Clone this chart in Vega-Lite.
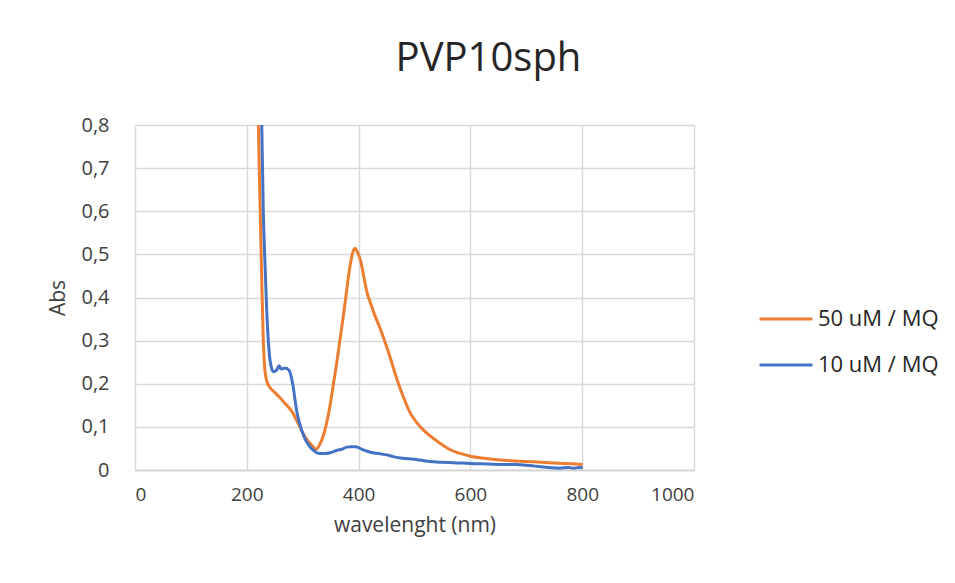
{
  "$schema": "https://vega.github.io/schema/vega-lite/v6.json",
  "autosize": "none",
  "width": 559,
  "height": 345,
  "padding": {"left": 135, "top": 125, "right": 261, "bottom": 113},
  "background": "white",
  "title": {
    "text": "PVP10sph",
    "anchor": "middle",
    "frame": "group",
    "dx": 74,
    "font": "Open Sans",
    "fontSize": 40,
    "fontWeight": "normal",
    "color": "#262626",
    "baseline": "alphabetic",
    "offset": 4
  },
  "config": {
    "view": {"stroke": null},
    "font": "Open Sans"
  },
  "datasets": {
    "spectra": [
      {"nm": 219, "abs": 0.95, "series": "50 uM / MQ"},
      {"nm": 221, "abs": 0.78, "series": "50 uM / MQ"},
      {"nm": 224, "abs": 0.6, "series": "50 uM / MQ"},
      {"nm": 226.6, "abs": 0.45, "series": "50 uM / MQ"},
      {"nm": 229.5, "abs": 0.3, "series": "50 uM / MQ"},
      {"nm": 232.5, "abs": 0.23, "series": "50 uM / MQ"},
      {"nm": 236, "abs": 0.205, "series": "50 uM / MQ"},
      {"nm": 241, "abs": 0.192, "series": "50 uM / MQ"},
      {"nm": 250, "abs": 0.18, "series": "50 uM / MQ"},
      {"nm": 259, "abs": 0.168, "series": "50 uM / MQ"},
      {"nm": 268, "abs": 0.155, "series": "50 uM / MQ"},
      {"nm": 280, "abs": 0.137, "series": "50 uM / MQ"},
      {"nm": 290, "abs": 0.113, "series": "50 uM / MQ"},
      {"nm": 295, "abs": 0.1, "series": "50 uM / MQ"},
      {"nm": 305, "abs": 0.075, "series": "50 uM / MQ"},
      {"nm": 313, "abs": 0.062, "series": "50 uM / MQ"},
      {"nm": 320, "abs": 0.052, "series": "50 uM / MQ"},
      {"nm": 324, "abs": 0.048, "series": "50 uM / MQ"},
      {"nm": 330, "abs": 0.058, "series": "50 uM / MQ"},
      {"nm": 337, "abs": 0.08, "series": "50 uM / MQ"},
      {"nm": 343, "abs": 0.11, "series": "50 uM / MQ"},
      {"nm": 349, "abs": 0.15, "series": "50 uM / MQ"},
      {"nm": 355, "abs": 0.2, "series": "50 uM / MQ"},
      {"nm": 361, "abs": 0.25, "series": "50 uM / MQ"},
      {"nm": 367, "abs": 0.305, "series": "50 uM / MQ"},
      {"nm": 373, "abs": 0.36, "series": "50 uM / MQ"},
      {"nm": 378, "abs": 0.41, "series": "50 uM / MQ"},
      {"nm": 382, "abs": 0.45, "series": "50 uM / MQ"},
      {"nm": 387, "abs": 0.49, "series": "50 uM / MQ"},
      {"nm": 391, "abs": 0.51, "series": "50 uM / MQ"},
      {"nm": 394, "abs": 0.514, "series": "50 uM / MQ"},
      {"nm": 398, "abs": 0.505, "series": "50 uM / MQ"},
      {"nm": 403, "abs": 0.488, "series": "50 uM / MQ"},
      {"nm": 408, "abs": 0.458, "series": "50 uM / MQ"},
      {"nm": 412, "abs": 0.43, "series": "50 uM / MQ"},
      {"nm": 416, "abs": 0.407, "series": "50 uM / MQ"},
      {"nm": 420, "abs": 0.392, "series": "50 uM / MQ"},
      {"nm": 428, "abs": 0.362, "series": "50 uM / MQ"},
      {"nm": 438, "abs": 0.33, "series": "50 uM / MQ"},
      {"nm": 447, "abs": 0.298, "series": "50 uM / MQ"},
      {"nm": 456, "abs": 0.263, "series": "50 uM / MQ"},
      {"nm": 465, "abs": 0.225, "series": "50 uM / MQ"},
      {"nm": 474, "abs": 0.19, "series": "50 uM / MQ"},
      {"nm": 483, "abs": 0.16, "series": "50 uM / MQ"},
      {"nm": 492, "abs": 0.133, "series": "50 uM / MQ"},
      {"nm": 504, "abs": 0.11, "series": "50 uM / MQ"},
      {"nm": 518, "abs": 0.09, "series": "50 uM / MQ"},
      {"nm": 534, "abs": 0.073, "series": "50 uM / MQ"},
      {"nm": 550, "abs": 0.058, "series": "50 uM / MQ"},
      {"nm": 564, "abs": 0.047, "series": "50 uM / MQ"},
      {"nm": 580, "abs": 0.039, "series": "50 uM / MQ"},
      {"nm": 600, "abs": 0.032, "series": "50 uM / MQ"},
      {"nm": 625, "abs": 0.027, "series": "50 uM / MQ"},
      {"nm": 653, "abs": 0.023, "series": "50 uM / MQ"},
      {"nm": 680, "abs": 0.021, "series": "50 uM / MQ"},
      {"nm": 712, "abs": 0.019, "series": "50 uM / MQ"},
      {"nm": 740, "abs": 0.017, "series": "50 uM / MQ"},
      {"nm": 770, "abs": 0.015, "series": "50 uM / MQ"},
      {"nm": 801, "abs": 0.013, "series": "50 uM / MQ"},
      {"nm": 225, "abs": 0.95, "series": "10 uM / MQ"},
      {"nm": 227, "abs": 0.78, "series": "10 uM / MQ"},
      {"nm": 229.5, "abs": 0.6, "series": "10 uM / MQ"},
      {"nm": 232.5, "abs": 0.48, "series": "10 uM / MQ"},
      {"nm": 235.6, "abs": 0.371, "series": "10 uM / MQ"},
      {"nm": 238.5, "abs": 0.3, "series": "10 uM / MQ"},
      {"nm": 241.5, "abs": 0.255, "series": "10 uM / MQ"},
      {"nm": 244.5, "abs": 0.235, "series": "10 uM / MQ"},
      {"nm": 247.5, "abs": 0.228, "series": "10 uM / MQ"},
      {"nm": 250.5, "abs": 0.229, "series": "10 uM / MQ"},
      {"nm": 253.5, "abs": 0.232, "series": "10 uM / MQ"},
      {"nm": 256, "abs": 0.238, "series": "10 uM / MQ"},
      {"nm": 258, "abs": 0.242, "series": "10 uM / MQ"},
      {"nm": 260, "abs": 0.237, "series": "10 uM / MQ"},
      {"nm": 262.4, "abs": 0.234, "series": "10 uM / MQ"},
      {"nm": 266, "abs": 0.236, "series": "10 uM / MQ"},
      {"nm": 271, "abs": 0.236, "series": "10 uM / MQ"},
      {"nm": 274, "abs": 0.233, "series": "10 uM / MQ"},
      {"nm": 277, "abs": 0.228, "series": "10 uM / MQ"},
      {"nm": 280, "abs": 0.213, "series": "10 uM / MQ"},
      {"nm": 283, "abs": 0.193, "series": "10 uM / MQ"},
      {"nm": 286, "abs": 0.165, "series": "10 uM / MQ"},
      {"nm": 289, "abs": 0.139, "series": "10 uM / MQ"},
      {"nm": 293, "abs": 0.115, "series": "10 uM / MQ"},
      {"nm": 298, "abs": 0.093, "series": "10 uM / MQ"},
      {"nm": 305, "abs": 0.07, "series": "10 uM / MQ"},
      {"nm": 313, "abs": 0.054, "series": "10 uM / MQ"},
      {"nm": 320, "abs": 0.045, "series": "10 uM / MQ"},
      {"nm": 325, "abs": 0.04, "series": "10 uM / MQ"},
      {"nm": 331, "abs": 0.038, "series": "10 uM / MQ"},
      {"nm": 340, "abs": 0.038, "series": "10 uM / MQ"},
      {"nm": 349, "abs": 0.04, "series": "10 uM / MQ"},
      {"nm": 356, "abs": 0.043, "series": "10 uM / MQ"},
      {"nm": 362, "abs": 0.046, "series": "10 uM / MQ"},
      {"nm": 370, "abs": 0.048, "series": "10 uM / MQ"},
      {"nm": 379, "abs": 0.053, "series": "10 uM / MQ"},
      {"nm": 387, "abs": 0.054, "series": "10 uM / MQ"},
      {"nm": 394, "abs": 0.054, "series": "10 uM / MQ"},
      {"nm": 400, "abs": 0.052, "series": "10 uM / MQ"},
      {"nm": 406, "abs": 0.048, "series": "10 uM / MQ"},
      {"nm": 414, "abs": 0.044, "series": "10 uM / MQ"},
      {"nm": 425, "abs": 0.04, "series": "10 uM / MQ"},
      {"nm": 437, "abs": 0.038, "series": "10 uM / MQ"},
      {"nm": 450, "abs": 0.035, "series": "10 uM / MQ"},
      {"nm": 462, "abs": 0.031, "series": "10 uM / MQ"},
      {"nm": 474, "abs": 0.028, "series": "10 uM / MQ"},
      {"nm": 490, "abs": 0.026, "series": "10 uM / MQ"},
      {"nm": 505, "abs": 0.024, "series": "10 uM / MQ"},
      {"nm": 520, "abs": 0.021, "series": "10 uM / MQ"},
      {"nm": 534, "abs": 0.019, "series": "10 uM / MQ"},
      {"nm": 550, "abs": 0.018, "series": "10 uM / MQ"},
      {"nm": 570, "abs": 0.017, "series": "10 uM / MQ"},
      {"nm": 600, "abs": 0.015, "series": "10 uM / MQ"},
      {"nm": 630, "abs": 0.014, "series": "10 uM / MQ"},
      {"nm": 660, "abs": 0.013, "series": "10 uM / MQ"},
      {"nm": 683, "abs": 0.013, "series": "10 uM / MQ"},
      {"nm": 700, "abs": 0.011, "series": "10 uM / MQ"},
      {"nm": 715, "abs": 0.009, "series": "10 uM / MQ"},
      {"nm": 730, "abs": 0.007, "series": "10 uM / MQ"},
      {"nm": 745, "abs": 0.005, "series": "10 uM / MQ"},
      {"nm": 760, "abs": 0.004, "series": "10 uM / MQ"},
      {"nm": 775, "abs": 0.006, "series": "10 uM / MQ"},
      {"nm": 785, "abs": 0.004, "series": "10 uM / MQ"},
      {"nm": 793, "abs": 0.006, "series": "10 uM / MQ"},
      {"nm": 801, "abs": 0.005, "series": "10 uM / MQ"}
    ]
  },
  "data": {"name": "spectra"},
  "mark": {"type": "line", "strokeWidth": 3, "clip": true, "interpolate": "monotone"},
  "encoding": {
    "x": {
      "field": "nm",
      "type": "quantitative",
      "scale": {"domain": [0, 1000], "nice": false},
      "axis": {
        "values": [0, 200, 400, 600, 800, 1000],
        "format": "d",
        "title": "wavelenght (nm)",
        "titleFont": "Open Sans",
        "titleFontSize": 21,
        "titleFontWeight": "normal",
        "titleColor": "#404040",
        "titlePadding": 10,
        "labelFont": "Open Sans",
        "labelFontSize": 19,
        "labelColor": "#404040",
        "labelPadding": 15,
        "ticks": false,
        "domainColor": "#d0d0d0",
        "domainWidth": 1.5,
        "gridColor": "#d9d9d9",
        "gridWidth": 1.5
      }
    },
    "y": {
      "field": "abs",
      "type": "quantitative",
      "scale": {"domain": [0, 0.8], "nice": false},
      "axis": {
        "values": [0, 0.1, 0.2, 0.3, 0.4, 0.5, 0.6, 0.7, 0.8],
        "format": ".1~f",
        "labelExpr": "replace(datum.label, '.', ',')",
        "title": "Abs",
        "titleFont": "Open Sans",
        "titleFontSize": 21,
        "titleFontWeight": "normal",
        "titleColor": "#404040",
        "titlePadding": 12,
        "labelFont": "Open Sans",
        "labelFontSize": 20,
        "labelColor": "#404040",
        "labelPadding": 26,
        "ticks": false,
        "domain": false,
        "gridColor": "#d9d9d9",
        "gridWidth": 1.5
      }
    },
    "color": {
      "field": "series",
      "type": "nominal",
      "scale": {"domain": ["50 uM / MQ", "10 uM / MQ"], "range": ["#ED7D31", "#4472C4"]},
      "legend": {
        "title": null,
        "orient": "none",
        "legendX": 623,
        "legendY": 166,
        "padding": 0,
        "symbolType": "stroke",
        "symbolSize": 2800,
        "symbolStrokeWidth": 3,
        "labelFont": "Open Sans",
        "labelFontSize": 22,
        "labelColor": "#262626",
        "labelOffset": 4,
        "rowPadding": 7
      }
    }
  }
}
